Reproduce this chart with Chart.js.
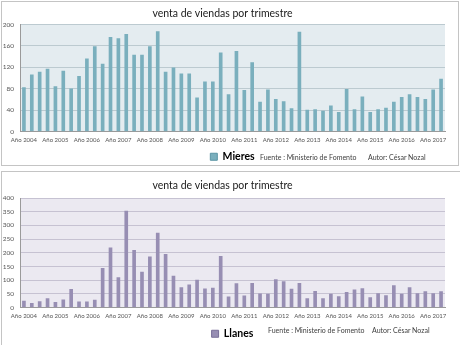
<!DOCTYPE html>
<html>
<head>
<meta charset="utf-8">
<script src="https://cdn.jsdelivr.net/npm/chart.js@4.4.1/dist/chart.umd.min.js"></script>
<style>
  body { margin: 0; background: #fff; width: 460px; height: 345px; overflow: hidden; position: relative; font-family: Lato, sans-serif; }
  .frame { position: absolute; border: 1px solid #c4c4c4; box-sizing: border-box; }
  canvas { position: absolute; left: 0; }
  .note { position: absolute; font-size: 7px; color: #404040; white-space: nowrap; }
</style>
</head>
<body>
<div class="frame" style="left:1px;top:1px;width:458px;height:165px"></div>
<div class="frame" style="left:1px;top:171px;width:460px;height:176px"></div>
<canvas id="mieresChart" width="460" height="172" style="top:0"></canvas>
<canvas id="llanesChart" width="460" height="179" style="top:170px"></canvas>
<div class="note" style="left:260px;top:153px">Fuente : Ministerio de Fomento</div>
<div class="note" style="left:368px;top:153px">Autor: César Nozal</div>
<div class="note" style="left:268px;top:326px">Fuente : Ministerio de Fomento</div>
<div class="note" style="left:372px;top:326px">Autor: César Nozal</div>
<script>
const title = 'venta de viendas por trimestre';
const years = ['Año 2004', 'Año 2005', 'Año 2006', 'Año 2007', 'Año 2008', 'Año 2009', 'Año 2010',
               'Año 2011', 'Año 2012', 'Año 2013', 'Año 2014', 'Año 2015', 'Año 2016', 'Año 2017'];

// ventas trimestrales, 2004 T1 .. 2017 T2
const mieres = [82, 106, 111, 117, 84, 113, 80, 103, 136, 159, 126, 176, 174, 182, 143, 143,
                159, 187, 111, 119, 108, 108, 63, 93, 93, 147, 69, 150, 77, 129, 55, 78,
                60, 56, 43, 186, 40, 41, 38, 48, 36, 79, 41, 65, 36, 41, 44, 55,
                64, 69, 64, 60, 78, 98];
const llanes = [23, 15, 22, 33, 19, 28, 66, 21, 21, 27, 143, 218, 109, 352, 209, 129,
                185, 272, 194, 115, 73, 83, 100, 68, 71, 187, 39, 87, 43, 88, 50, 49,
                102, 95, 67, 88, 33, 59, 33, 49, 40, 55, 65, 69, 36, 51, 44, 80,
                49, 73, 51, 58, 51, 58];

// una categoria por trimestre; etiqueta solo en el primero de cada año
const labels = [];
years.forEach(y => { for (let q = 1; q <= 4; q++) labels.push(y + ' T' + q); });
labels.length = mieres.length;

const plotBg = {
    id: 'plotBg',
    beforeDraw(chart, args, opts) {
        const { ctx, chartArea: a } = chart;
        ctx.save();
        ctx.fillStyle = opts.color;
        ctx.fillRect(a.left, a.top, a.right - a.left, a.bottom - a.top);
        ctx.restore();
    }
};

function makeChart(id, name, data, max, step, lay, colors) {
    const ctx = document.getElementById(id).getContext('2d');
    return new Chart(ctx, {
        type: 'bar',
        data: {
            labels: labels,
            datasets: [{
                label: name,
                data: data,
                backgroundColor: colors.bar,
                borderWidth: 0,
                barThickness: 3
            }]
        },
        options: {
            responsive: false,
            animation: false,
            layout: { padding: { left: 0, right: 15, top: 0, bottom: 0 } },
            plugins: {
                plotBg: { color: colors.bg },
                tooltip: { enabled: false },
                title: {
                    display: true,
                    text: title,
                    color: '#1a1a1a',
                    font: { family: 'Lato', size: 10.5, weight: 'normal' },
                    padding: lay.title
                },
                legend: {
                    position: 'bottom',
                    fullSize: false,
                    labels: {
                        color: '#111',
                        boxWidth: 7,
                        boxHeight: 7,
                        padding: 6,
                        font: { family: 'Lato', size: 10.5, weight: 'bold' },
                        generateLabels: () => [{
                            text: name, fillStyle: colors.bar, strokeStyle: colors.edge, lineWidth: 1
                        }]
                    }
                }
            },
            scales: {
                x: {
                    afterFit: s => { s.height = lay.xHeight; },
                    grid: { display: false, drawTicks: false },
                    border: { color: '#9a9a9a' },
                    ticks: {
                        autoSkip: false,
                        maxRotation: 0,
                        padding: 5,
                        color: '#555',
                        font: { family: 'Lato', size: 6 },
                        callback: (v, i) => i % 4 === 0 ? years[i / 4] : ''
                    }
                },
                y: {
                    min: 0,
                    max: max,
                    afterFit: s => { s.width = 20; },
                    grid: { color: colors.grid, drawTicks: false },
                    border: { color: '#9a9a9a' },
                    ticks: {
                        stepSize: step,
                        padding: 6,
                        color: '#555',
                        font: { family: 'Lato', size: 6.5 }
                    }
                }
            }
        },
        plugins: [plotBg]
    });
}

makeChart('mieresChart', 'Mieres', mieres, 200, 20,
    { title: { top: 7, bottom: 5 }, xHeight: 14 },
    { bar: '#7aafbd', edge: '#5b95a5', bg: '#e4ecf0', grid: '#bccad0' });
makeChart('llanesChart', 'Llanes', llanes, 400, 50,
    { title: { top: 9, bottom: 6.4 }, xHeight: 15 },
    { bar: '#978eb3', edge: '#786f98', bg: '#ebe9f1', grid: '#c6c2d2' });
</script>
</body>
</html>
